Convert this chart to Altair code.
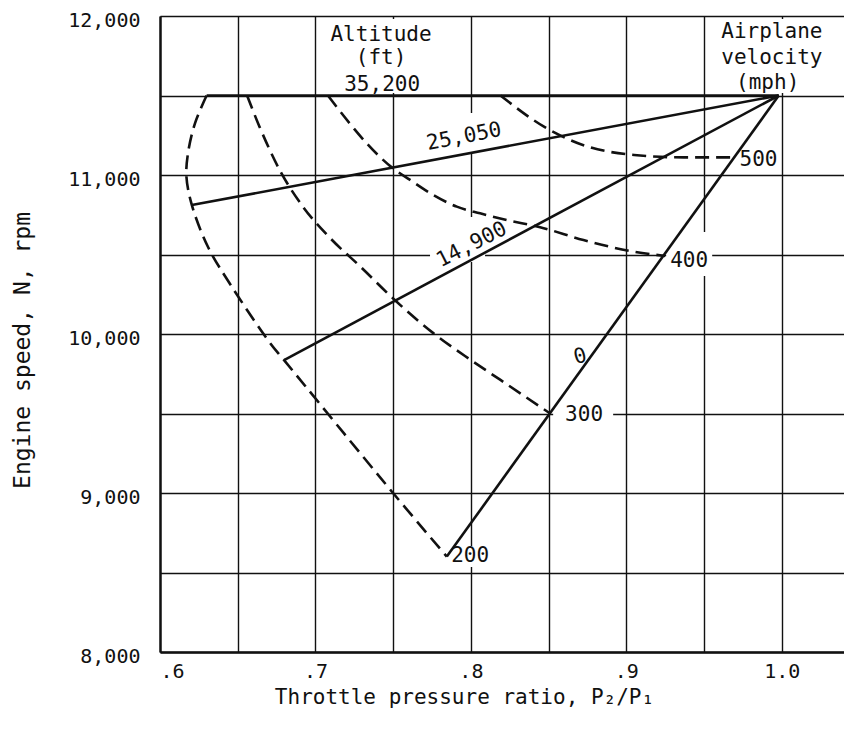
import altair as alt
import pandas as pd

# ---------------- data ----------------
X_GRID = [0.60, 0.65, 0.70, 0.75, 0.80, 0.85, 0.90, 0.95, 1.00]
Y_GRID = [8000, 8500, 9000, 9500, 10000, 10500, 11000, 11500, 12000]

# solid lines of constant altitude (ft), all running to the common point
ALT_LABELS = ["35,200", "25,050", "14,900", "0"]
ALT_X0 = [0.630, 0.6205, 0.6798, 0.7845]
ALT_Y0 = [11500, 10811, 9836, 8600]
FOCUS_X = 0.998
FOCUS_Y = 11500

# dashed lines of constant airplane velocity (mph)
V200_X = [0.630, 0.6225, 0.618, 0.617, 0.6205, 0.6309, 0.6463, 0.6708, 0.6798, 0.7499, 0.7845]
V200_Y = [11500, 11325, 11136, 10990, 10811, 10547, 10296, 9943, 9836, 9000, 8600]
V300_X = [0.656, 0.664, 0.677, 0.692, 0.7094, 0.729, 0.751, 0.776, 0.800, 0.819, 0.851]
V300_Y = [11500, 11304, 11031, 10800, 10604, 10423, 10214, 10004, 9836, 9711, 9500]
V400_X = [0.708, 0.722, 0.733, 0.7491, 0.7609, 0.7759, 0.7909, 0.8059, 0.8231, 0.8445, 0.8724, 0.9046, 0.925]
V400_Y = [11500, 11325, 11199, 11048, 10969, 10874, 10801, 10759, 10717, 10672, 10591, 10518, 10491]
V500_X = [0.819, 0.847, 0.872, 0.905, 0.937, 0.971]
V500_Y = [11500, 11304, 11189, 11126, 11111, 11111]

# annotations
LABEL_TEXT = ["Altitude", "(ft)", "35,200", "Airplane", "velocity", "(mph)",
              "25,050", "14,900", "0", "200", "300", "400", "500"]
LABEL_X = [0.7422, 0.7422, 0.7429, 0.9936, 0.9936, 0.9909,
           0.7956, 0.8006, 0.8703, 0.7995, 0.8728, 0.9404, 0.9850]
LABEL_Y = [11880, 11736, 11566, 11899, 11736, 11579,
           11239, 10560, 9857, 8604, 9491, 10456, 11094]
LABEL_ANGLE = [0, 0, 0, 0, 0, 0, 349, 333, 345, 0, 0, 0, 0]

# white backgrounds that break the grid behind lettering
BOX_X0 = [0.7126, 0.9571, 0.8529, 0.9256, 0.7866, 0.7737, 0.7737]
BOX_X1 = [0.7802, 1.0344, 0.8915, 0.9552, 0.8124, 0.8188, 0.8091]
BOX_Y0 = [11516, 11516, 9428, 10365, 8535, 11145, 10453]
BOX_Y1 = [11981, 11981, 9553, 10642, 8667, 11390, 10736]

# ---------------- tables ----------------
FONT = "DejaVu Sans Mono"

alt_rows = []
for lab, x0, y0 in zip(ALT_LABELS, ALT_X0, ALT_Y0):
    alt_rows.append({"series": lab, "i": 0, "x": x0, "y": y0})
    alt_rows.append({"series": lab, "i": 1, "x": FOCUS_X, "y": FOCUS_Y})
alt_df = pd.DataFrame(alt_rows)


def curve_df(items):
    rows = []
    for lab, xs, ys in items:
        for i, (xv, yv) in enumerate(zip(xs, ys)):
            rows.append({"series": lab, "i": i, "x": xv, "y": yv})
    return pd.DataFrame(rows)


vel200_df = curve_df([("200", V200_X, V200_Y)])
vel_rest_df = curve_df([("300", V300_X, V300_Y), ("400", V400_X, V400_Y),
                        ("500", V500_X, V500_Y)])

lab_df = pd.DataFrame({"text": LABEL_TEXT, "x": LABEL_X, "y": LABEL_Y, "angle": LABEL_ANGLE})
box_df = pd.DataFrame({"x": BOX_X0, "x2": BOX_X1, "y": BOX_Y0, "y2": BOX_Y1})

X_ENC = alt.X(
    "x:Q",
    scale=alt.Scale(domain=[0.6, 1.04], nice=False, zero=False),
    axis=alt.Axis(
        values=X_GRID,
        labelExpr="abs(datum.value*10 - round(datum.value*10)) < 0.001 ? "
                  "(datum.value > 0.999 ? '1.0' : '.' + round(datum.value*10)) : ''",
        title="Throttle pressure ratio, P\u2082/P\u2081",
        titleX=304, titleY=45, titleBaseline="middle", titleAlign="center",
        labelPadding=9, labelFontSize=20,
    ),
)
Y_ENC = alt.Y(
    "y:Q",
    scale=alt.Scale(domain=[8000, 12000], nice=False, zero=False),
    axis=alt.Axis(
        values=Y_GRID,
        labelExpr="datum.value % 1000 == 0 ? format(datum.value, ',') : ''",
        title="Engine speed, N, rpm",
        titleX=-138, titleY=334, titleAngle=270, titleBaseline="middle", titleAlign="center",
        titleFontSize=23,
        labelPadding=20, labelFontSize=20, labelBaseline="middle", labelOffset=4,
    ),
)

DASH = dict(color="#111", strokeWidth=2.6, strokeDash=[14, 7])

boxes = alt.Chart(box_df).mark_rect(color="white").encode(
    x=X_ENC, x2="x2:Q", y=Y_ENC, y2="y2:Q"
)

vel200 = alt.Chart(vel200_df).mark_line(interpolate="catmull-rom", **DASH).encode(
    x=X_ENC, y=Y_ENC, detail="series:N", order="i:Q"
)
vel_rest = alt.Chart(vel_rest_df).mark_line(interpolate="monotone", **DASH).encode(
    x=X_ENC, y=Y_ENC, detail="series:N", order="i:Q"
)

alts = alt.Chart(alt_df).mark_line(color="#111", strokeWidth=2.6).encode(
    x=X_ENC, y=Y_ENC, detail="series:N", order="i:Q"
)

texts = alt.Chart(lab_df).mark_text(
    font=FONT, fontSize=21, color="#111", align="center", baseline="middle"
).encode(x=X_ENC, y=Y_ENC, text="text:N", angle=alt.Angle("angle:Q", scale=None))

chart = (
    alt.layer(boxes, vel200, vel_rest, alts, texts)
    .properties(
        width=684, height=636,
        padding={"left": 152, "top": 8, "right": 0, "bottom": 70},
        autosize=alt.AutoSizeParams(type="none"),
    )
    .configure_view(stroke=None)
    .configure_axis(
        grid=True, gridColor="#111", gridWidth=1.4, gridOpacity=1,
        domain=True, domainColor="#111", domainWidth=2.4,
        ticks=False,
        labelFont=FONT, labelColor="#111",
        titleFont=FONT, titleColor="#111", titleFontSize=21, titleFontWeight="normal",
    )
)

chart.save("out.html", embed_options={"renderer": "svg", "actions": False})
